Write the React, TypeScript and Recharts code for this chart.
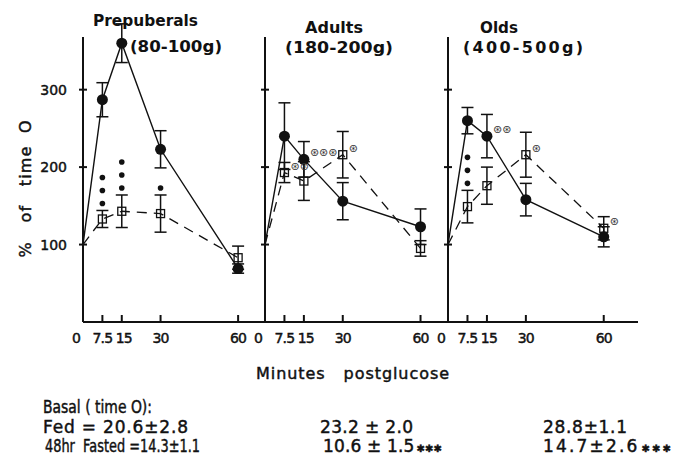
import React from 'react';
import { LineChart, Line, XAxis, YAxis, ErrorBar, LabelList } from 'recharts';

const minutes = [0, 7.5, 15, 30, 60];
const pctTicks = [100, 200, 300];

// Prepuberals (80-100g)
const prepFed = [100, 287, 360, 223, 69];
const prepFedErr = [0, 22, 25, 24, 6];
const prepFasted = [100, 133, 143, 140, 83];
const prepFastedErr = [0, 11, 21, 24, 15];
const prepFedSig = ['', '', '', '', ''];
const prepFastedSig = ['', '•••', '•••', '•', ''];

// Adults (180-200g)
const adultFed = [100, 240, 210, 156, 123];
const adultFedErr = [0, 43, 23, 24, 23];
const adultFasted = [100, 193, 182, 216, 95];
const adultFastedErr = [0, 13, 25, 30, 10];
const adultFedSig = ['', '', '⊛⊛⊛', '', ''];
const adultFastedSig = ['', '⊛⊛', '', '⊛', ''];

// Olds (400-500g)
const oldFed = [100, 260, 240, 158, 110];
const oldFedErr = [0, 17, 28, 21, 13];
const oldFasted = [100, 149, 176, 216, 121];
const oldFastedErr = [0, 21, 24, 29, 15];
const oldFedSig = ['', '', '⊛⊛', '', ''];
const oldFastedSig = ['', '•••', '', '⊛', '⊛'];

const INK = '#111';
const W = 674;
const H = 360;

function buildRows(fed: number[], fedErr: number[], fasted: number[], fastedErr: number[], fedSig: string[], fastedSig: string[]) {
  return minutes.map((m, i) => ({
    minute: m,
    fed: fed[i],
    fedErr: fedErr[i],
    fasted: fasted[i],
    fastedErr: fastedErr[i],
    fastedTop: fasted[i] + fastedErr[i],
    fedSig: fedSig[i],
    fastedSig: fastedSig[i],
  }));
}

const panels = [
  { key: 'prep', rows: buildRows(prepFed, prepFedErr, prepFasted, prepFastedErr, prepFedSig, prepFastedSig), left: 83, right: 265, xMax: 70.4, labels: true },
  { key: 'adult', rows: buildRows(adultFed, adultFedErr, adultFasted, adultFastedErr, adultFedSig, adultFastedSig), left: 265, right: 448, xMax: 70.6, labels: false },
  { key: 'old', rows: buildRows(oldFed, oldFedErr, oldFasted, oldFastedErr, oldFedSig, oldFastedSig), left: 448, right: 638, xMax: 73.2, labels: false },
];

// slightly heavier text, like the inked lettering of the original
const heavy = { stroke: INK, strokeWidth: 0.45 };

const MinuteTick = (props: any) => {
  const { x, y, payload } = props;
  const v = payload.value;
  return (
    <g>
      {v !== 0 && <line x1={x} x2={x} y1={y} y2={y - 7} stroke={INK} strokeWidth={2} />}
      <text x={x} y={y + 21} dx={v === 0 ? -7 : v === 15 ? 2 : 0} textAnchor="middle" fontSize={14} letterSpacing={-0.8} fill={INK} {...heavy}>
        {v}
      </text>
    </g>
  );
};

const PctTick = (props: any) => {
  const { x, y, payload, showLabel } = props;
  return (
    <g>
      <line x1={x - 4} x2={x + 4} y1={y} y2={y} stroke={INK} strokeWidth={2} />
      {showLabel && (
        <text x={x - 16} y={y + 5} textAnchor="end" fontSize={14} fill={INK} {...heavy}>
          {payload.value}
        </text>
      )}
    </g>
  );
};

const FedDot = (props: any) => {
  const { cx, cy, index } = props;
  if (index === 0) return <g key={`fd${index}`} />;
  return <circle key={`fd${index}`} cx={cx} cy={cy} r={5.5} fill={INK} />;
};

const FastedDot = (props: any) => {
  const { cx, cy, index } = props;
  if (index === 0) return <g key={`sd${index}`} />;
  return <rect key={`sd${index}`} x={cx - 4} y={cy - 4} width={8} height={8} fill="none" stroke={INK} strokeWidth={1.3} />;
};

// significance dots stacked above the error bar
const renderDots = (props: any) => {
  const { x, y, value, index } = props;
  const s = String(value ?? '');
  if (!s.includes('•')) return null;
  return (
    <g key={`dots${index}`}>
      {Array.from(s).map((_, i) => (
        <circle key={i} cx={x} cy={y - 7 - i * 13} r={2.8} fill={INK} />
      ))}
    </g>
  );
};

// asterisks to the right of the point
const renderStars = (props: any) => {
  const { x, y, value, index } = props;
  const s = String(value ?? '');
  if (!s.includes('⊛')) return null;
  return (
    <text key={`st${index}`} x={x + 6} y={y - 3} fontSize={11} fill="#333">
      {s}
    </text>
  );
};

function Panel({ p }: { p: (typeof panels)[number] }) {
  const axisW = p.labels ? p.left : 1;
  return (
    <div style={{ position: 'absolute', left: 0, top: 0 }}>
      <LineChart
        width={W}
        height={H}
        data={p.rows}
        margin={{ top: 37, right: W - p.right, bottom: 0, left: p.left - axisW }}
      >
        <XAxis
          dataKey="minute"
          type="number"
          domain={[0, p.xMax]}
          allowDataOverflow
          ticks={minutes}
          height={38}
          tickSize={0}
          tickMargin={0}
          tickLine={false}
          axisLine={{ stroke: INK, strokeWidth: 2 }}
          tick={<MinuteTick />}
          interval={0}
        />
        <YAxis
          type="number"
          domain={[0, 368]}
          allowDataOverflow
          ticks={pctTicks}
          width={axisW}
          tickSize={0}
          tickMargin={0}
          tickLine={false}
          axisLine={{ stroke: INK, strokeWidth: 2 }}
          tick={<PctTick showLabel={p.labels} />}
          interval={0}
        />
        <Line
          dataKey="fasted"
          stroke={INK}
          strokeWidth={1.3}
          strokeDasharray="10 7"
          dot={<FastedDot />}
          activeDot={false}
          isAnimationActive={false}
        >
          <ErrorBar dataKey="fastedErr" width={6} stroke={INK} strokeWidth={1.5} direction="y" />
          <LabelList dataKey="fastedSig" content={renderStars} />
        </Line>
        <Line
          dataKey="fed"
          stroke={INK}
          strokeWidth={1.4}
          dot={<FedDot />}
          activeDot={false}
          isAnimationActive={false}
        >
          <ErrorBar dataKey="fedErr" width={6} stroke={INK} strokeWidth={1.5} direction="y" />
          <LabelList dataKey="fedSig" content={renderStars} />
        </Line>
        <Line dataKey="fastedTop" stroke="none" dot={false} activeDot={false} isAnimationActive={false}>
          <LabelList dataKey="fastedSig" content={renderDots} />
        </Line>
      </LineChart>
    </div>
  );
}

export default function App() {
  const txt = { fill: INK, fontFamily: '"DejaVu Sans", sans-serif' } as const;
  const squeeze = { lengthAdjust: 'spacingAndGlyphs' } as const;
  return (
    <div
      style={{
        position: 'absolute',
        left: 0,
        top: 0,
        width: W,
        height: 459,
        background: '#fff',
        fontFamily: '"DejaVu Sans", sans-serif',
        overflow: 'hidden',
      }}
    >
      {panels.map((p) => (
        <Panel key={p.key} p={p} />
      ))}
      <svg width={W} height={459} style={{ position: 'absolute', left: 0, top: 0, pointerEvents: 'none' }}>
        <g {...txt} fontWeight="bold" fontSize={16}>
          <text x={93} y={26} textLength={105} {...squeeze}>Prepuberals</text>
          <text x={130} y={52} textLength={92} {...squeeze}>(80-100g)</text>
          <text x={305} y={33} textLength={58} {...squeeze}>Adults</text>
          <text x={285} y={53} textLength={108} {...squeeze}>(180-200g)</text>
          <text x={480} y={33} textLength={38} {...squeeze}>Olds</text>
          <text x={463} y={53} textLength={120} lengthAdjust="spacing">(400-500g)</text>
        </g>
        <g {...txt} {...heavy}>
          <text fontSize={16} transform="translate(31,189) rotate(-90)" textAnchor="middle" textLength={137} style={{ whiteSpace: 'pre' }}>
            {'%   of   time  O'}
          </text>
          <text fontSize={16} x={256} y={379} textLength={193} style={{ whiteSpace: 'pre' }}>
            {'Minutes   postglucose'}
          </text>
        </g>
        <g {...txt} {...heavy} fontSize={17}>
          <text x={43} y={413} textLength={109} {...squeeze}>Basal ( time O):</text>
          <text x={43} y={433} textLength={145}>Fed = 20.6±2.8</text>
          <text x={45} y={452} textLength={155} {...squeeze} style={{ whiteSpace: 'pre' }}>
            {'48hr  Fasted =14.3±1.1'}
          </text>
          <text x={320} y={433} textLength={93}>23.2 ± 2.0</text>
          <text x={323} y={452} textLength={119}>
            10.6 ± 1.5<tspan fontSize={10} dx={2}>✱✱✱</tspan>
          </text>
          <text x={543} y={433} textLength={84}>28.8±1.1</text>
          <text x={543} y={452} textLength={128}>
            14.7±2.6<tspan fontSize={10} dx={2}>✱✱✱</tspan>
          </text>
        </g>
      </svg>
    </div>
  );
}
